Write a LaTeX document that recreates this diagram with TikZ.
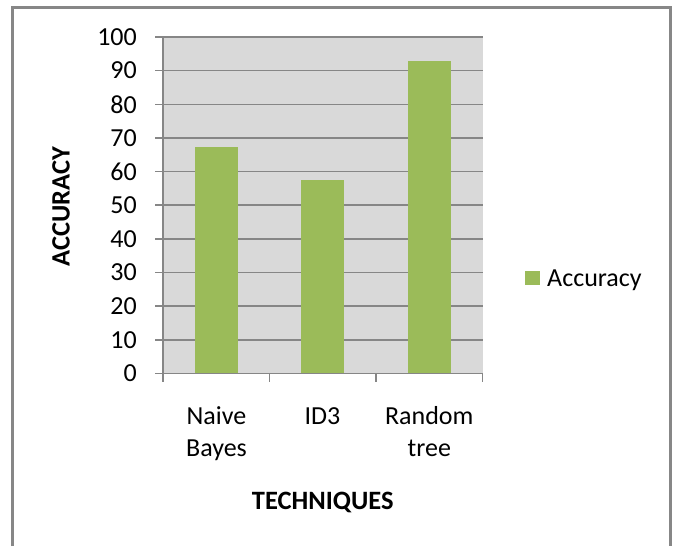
\documentclass[tikz,border=0pt]{standalone}
\usepackage{fontspec}
\setmainfont{Carlito}
\usetikzlibrary{positioning}

\definecolor{plotbg}{HTML}{D9D9D9}
\definecolor{gridgray}{HTML}{868686}
\definecolor{bargreen}{HTML}{9BBB59}
\definecolor{framegray}{HTML}{878787}

\begin{document}
\begin{tikzpicture}[x=1pt,y=-1pt,
        gridline/.style={draw=gridgray,line width=1.6pt},
        bar/.style={fill=bargreen},
        chartfont/.style={font=\fontsize{26}{32}\selectfont},
        ticklabel/.style={chartfont,anchor=east,inner sep=0pt},
        catlabel/.style={chartfont,anchor=base,inner sep=0pt,align=center},
        axistitle/.style={font=\bfseries\fontsize{26.5}{32}\selectfont,inner sep=0pt}]
      \useasboundingbox (0,0) rectangle (674,546);
      % chart frame (open at the bottom)
      \draw[framegray,line width=3pt] (12.5,546) |- (670,7) -- (670,546);
      % plot area
      \fill[plotbg] (163,37) rectangle (482.5,373.5);
      \foreach \v in {10,20,...,100}
        \draw[gridline] (155,{373.5-3.365*\v}) -- (482.5,{373.5-3.365*\v});
      % bars
      \foreach \v [count=\i] in {67.4,57.6,92.8} {
        \pgfmathsetmacro{\xc}{163+106.5*(\i-0.5)}
        \fill[bar] ({\xc-21.3},373.5) rectangle ({\xc+21.3},{373.5-3.365*\v});
      }
      % axes
      \draw[gridline] (163,37) -- (163,373.5);
      \draw[gridline] (155,373.5) -- (482.5,373.5);
      \foreach \i in {0,1,2,3}
        \draw[gridline] ({163+106.5*\i},373.5) -- ({163+106.5*\i},382);
      % tick labels
      \foreach \v in {0,10,...,100}
        \node[ticklabel] (tick\v) at (137,{373.5-3.365*\v}) {\v};
      \node[catlabel] (naive) at (216.5,456.3) {Naive\\Bayes};
      \node[catlabel] (idthree) at (322.5,424.3) {ID3};
      \node[catlabel] (random) at (429.3,456.3) {Random\\tree};
      % axis titles
      \node[axistitle,anchor=base] (xtitle) at (322.7,509) {TECHNIQUES};
      \node[axistitle,rotate=90] (ytitle) at (61,206.7) {ACCURACY};
      % legend
      \fill[bar] (525,270.7) rectangle (540,285.3);
      \node[chartfont,anchor=base west,inner sep=0pt] (legend) at (547,286) {Accuracy};
    \end{tikzpicture}
\end{document}
